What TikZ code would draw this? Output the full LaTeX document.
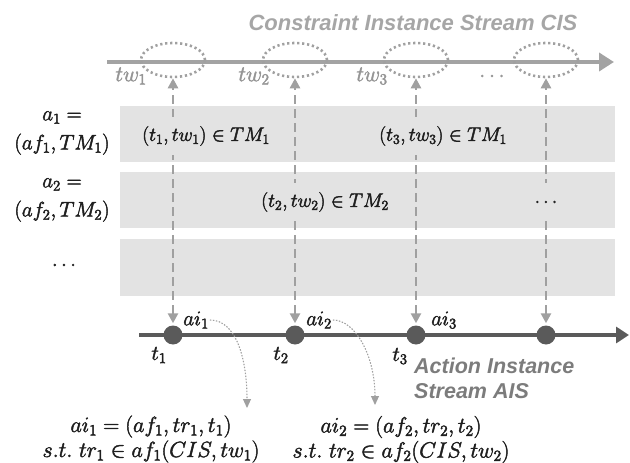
\RequirePackage{fix-cm}
\documentclass[tikz,border=0pt]{standalone}
\usepackage{fontspec}
\newfontfamily\lsans{Liberation Sans}
\usetikzlibrary{arrows.meta,shapes.geometric,backgrounds}
\newcommand\hvy[1]{\special{pdf:literal direct 2 Tr 0.45 w}#1\special{pdf:literal direct 0 Tr}}
\definecolor{bandgray}{HTML}{E3E3E3}
\definecolor{topgray}{HTML}{A3A3A3}
\definecolor{dashgray}{HTML}{A0A0A0}
\definecolor{darkline}{HTML}{5A5A5A}
\definecolor{titlegray}{HTML}{A6A6A6}
\definecolor{aisgray}{HTML}{7C7C7C}
\definecolor{twgray}{HTML}{959595}
\definecolor{txt}{HTML}{1E1E1E}
\tikzset{
  mathf/.style={font=\fontsize{21}{25}\selectfont, inner sep=1pt, text=txt},
  bandtxt/.style={font=\fontsize{19.5}{24}\selectfont, text=txt, fill=bandgray, inner sep=5pt, minimum height=38pt},
  leftlab/.style={align=center, font=\fontsize{21}{29}\selectfont, inner sep=0pt, text=txt},
  botlab/.style={align=center, font=\fontsize{22}{25}\selectfont, inner sep=0pt, text=txt},
  twlab/.style={font=\fontsize{22}{25}\selectfont, inner sep=1pt, text=twgray},
  ell/.style={ellipse, draw=dashgray, line width=2.6pt, dash pattern=on 2.2pt off 2.8pt,
    minimum width=64pt, minimum height=34pt, inner sep=0pt},
  tdot/.style={circle, fill=darkline, minimum size=19pt, inner sep=0pt},
  vconn/.style={draw=dashgray, line width=2.6pt, dash pattern=on 9pt off 5pt,
    {Triangle[length=10pt,width=10pt]}-{Triangle[length=10pt,width=10pt]}, shorten <=2pt},
  curv/.style={draw=dashgray, line width=1.1pt, dash pattern=on 1.5pt off 1.5pt,
    -{Triangle[length=9pt,width=8pt]}},
  toparr/.style={draw=topgray, line width=4.5pt, -{Triangle[length=15pt,width=18pt]}},
  botarr/.style={draw=darkline, line width=4.5pt, -{Triangle[length=13pt,width=16pt]}},
  sanslab/.style={font=\lsans\bfseries\itshape\fontsize{21.5}{25}\selectfont, inner sep=0pt},
}
\begin{document}
\begin{tikzpicture}[x=1pt,y=-1pt]
\useasboundingbox (0,0) rectangle (630,463);

% title
\node[sanslab, text=titlegray, font=\lsans\bfseries\itshape\fontsize{22}{25}\selectfont] (title) at (413,23) {Constraint Instance Stream CIS};

% top stream
\coordinate (ts) at (107,62);
\coordinate (te) at (614,62);
\draw[toparr] (ts) -- (te);
\node[ell] (e1) at (173,60) {};
\node[ell] (e2) at (295,60) {};
\node[ell] (e3) at (416,60) {};
\node[ell] (e4) at (546,60) {};
\node[twlab] (tw1) at (131,76) {\hvy{$tw_1$}};
\node[twlab] (tw2) at (254,76) {\hvy{$tw_2$}};
\node[twlab] (tw3) at (372,76) {\hvy{$tw_3$}};
\node[twlab] (tdots) at (492,76) {\hvy{$\dots$}};

% bottom stream
\coordinate (bs) at (139,335);
\coordinate (be) at (629,335);
\draw[botarr] (bs) -- (be);
\node[tdot] (d1) at (173,335) {};
\node[tdot] (d2) at (295,335) {};
\node[tdot] (d3) at (416,335) {};
\node[tdot] (d4) at (546,335) {};

% band texts
\node[bandtxt] (r1) at (206,136) {\hvy{$(t_1,tw_1)\in TM_1$}};
\node[bandtxt] (r3) at (443,136) {\hvy{$(t_3,tw_3)\in TM_1$}};
\node[bandtxt] (r2) at (325,202) {\hvy{$(t_2,tw_2)\in TM_2$}};
\node[bandtxt] (r4) at (546,202) {\hvy{$\dots$}};

\begin{scope}[on background layer]
  \fill[bandgray] (120,106) rectangle (615,162);
  \fill[bandgray] (120,172) rectangle (615,228);
  \fill[bandgray] (120,239) rectangle (615,296);
  \draw[vconn] (d1) -- (e1);
  \draw[vconn] (d2) -- (e2);
  \draw[vconn] (d3) -- (e3);
  \draw[vconn] (d4) -- (e4);
\end{scope}

% left labels
\node[leftlab] (a1) at (62,133) {\hvy{$a_1 =$}\\\hvy{$(af_1,TM_1)$}};
\node[leftlab] (a2) at (62,200) {\hvy{$a_2 =$}\\\hvy{$(af_2,TM_2)$}};
\node[mathf] (a3) at (64,265) {\hvy{$\dots$}};

% action instance labels
\node[mathf] (ai1) at (196,320) {\hvy{$ai_1$}};
\node[mathf] (ai2) at (319,320) {\hvy{$ai_2$}};
\node[mathf] (ai3) at (444,320) {\hvy{$ai_3$}};
\node[mathf] (t1) at (159,355) {\hvy{$t_1$}};
\node[mathf] (t2) at (281,355) {\hvy{$t_2$}};
\node[mathf] (t3) at (400,356) {\hvy{$t_3$}};

\node[sanslab, text=aisgray, align=left, anchor=west] (ais) at (414,378) {Action Instance\\Stream AIS};

% bottom definitions
\node[botlab] (def1) at (151,439) {\hvy{$ai_1 = (af_1,tr_1,t_1)$}\\\hvy{$s.t.\ tr_1 \in af_1(CIS,tw_1)$}};
\node[botlab] (def2) at (401,439.5) {\hvy{$ai_2 = (af_2,tr_2,t_2)$}\\\hvy{$s.t.\ tr_2 \in af_2(CIS,tw_2)$}};

\coordinate (c1) at (247,408);
\coordinate (c2) at (375,405);
\draw[curv] (ai1.east) .. controls +(26,0) and +(0,-50) .. (c1);
\draw[curv] (ai2.east) .. controls +(22,0) and +(0,-50) .. (c2);
\end{tikzpicture}
\end{document}
